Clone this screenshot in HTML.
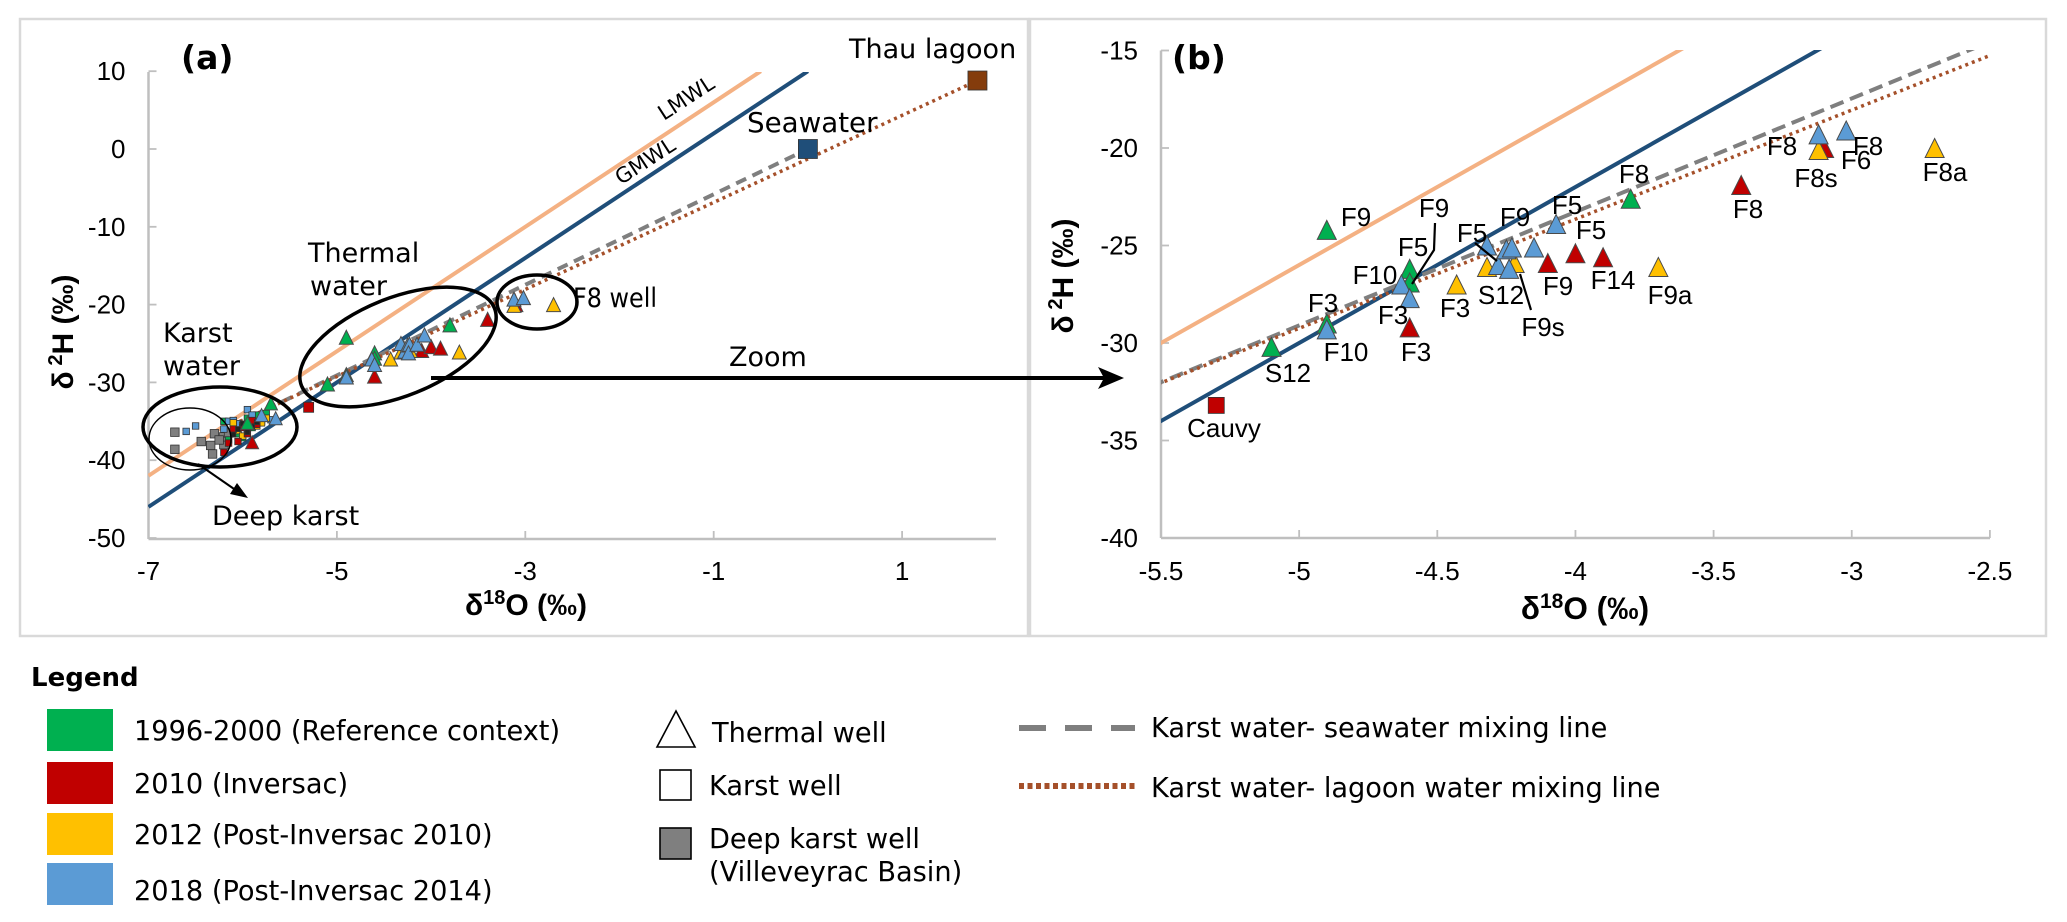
<!DOCTYPE html>
<html lang="en">
<head>
<meta charset="utf-8">
<title>Isotope chart</title>
<style>
html,body{margin:0;padding:0;background:#fff;width:2067px;height:922px;overflow:hidden}
svg{display:block}
text{fill:#000}
.dj{font-family:"DejaVu Sans",sans-serif;font-size:27px}
.lb{font-family:"Liberation Sans",sans-serif;font-size:26px}
.tick{font-family:"Liberation Sans",sans-serif;font-size:26px}
.ttl{font-family:"Liberation Sans",sans-serif;font-size:30px;font-weight:bold}
.lg{font-family:"DejaVu Sans",sans-serif;font-size:27.2px}
</style>
</head>
<body>
<svg id="root" width="2067" height="922" viewBox="0 0 2067 922" xmlns="http://www.w3.org/2000/svg">
  <defs>
    <clipPath id="clip-a"><rect x="148" y="72" width="848" height="467"/></clipPath>
    <clipPath id="clip-b"><rect x="1161" y="50" width="829" height="488"/></clipPath>
  </defs>
  <rect x="20" y="19" width="1008" height="617" fill="none" stroke="#d9d9d9" stroke-width="2.5"/>
  <rect x="1030" y="19" width="1016" height="617" fill="none" stroke="#d9d9d9" stroke-width="2.5"/>
  <g id="panel-a"></g>
  <g id="panel-b"></g>

  <text class="dj" x="181" y="69" style="font-size:33px;font-weight:bold">(a)</text>
  <text class="dj" x="1172" y="69" style="font-size:33px;font-weight:bold">(b)</text>

  <text class="ttl" x="526" y="615" text-anchor="middle">δ<tspan font-size="20" dy="-11">18</tspan><tspan dy="11">O (‰)</tspan></text>
  <text class="ttl" x="1585" y="619" text-anchor="middle" style="font-size:31.5px">δ<tspan font-size="21" dy="-11">18</tspan><tspan dy="11">O (‰)</tspan></text>
  <text class="ttl" transform="translate(73 332) rotate(-90)" text-anchor="middle">δ<tspan font-size="20" dy="-11"> 2</tspan><tspan dy="11">H (‰)</tspan></text>
  <text class="ttl" transform="translate(1073 276) rotate(-90)" text-anchor="middle">δ<tspan font-size="20" dy="-11"> 2</tspan><tspan dy="11">H (‰)</tspan></text>

  <!-- Panel (a) annotations -->
  <g fill="none" stroke="#000">
    <ellipse cx="220" cy="427" rx="77" ry="40" stroke-width="3.5"/>
    <ellipse cx="190" cy="439" rx="41" ry="31" stroke-width="1.5"/>
    <ellipse cx="398" cy="347" rx="104" ry="49" transform="rotate(-22 398 347)" stroke-width="3.5"/>
    <ellipse cx="537" cy="302" rx="40" ry="27" stroke-width="3.5"/>
    <line x1="198" y1="464" x2="237" y2="491" stroke-width="2"/>
    <path d="M248 498L230 494L237 483Z" fill="#000" stroke="none"/>
    <line x1="431" y1="378" x2="1105" y2="378" stroke-width="4"/>
    <path d="M1124 378L1098 367L1104 378L1098 389Z" fill="#000" stroke="none"/>
  </g>
  <text class="dj" x="163" y="342">Karst</text>
  <text class="dj" x="163" y="375">water</text>
  <text class="dj" x="308" y="262">Thermal</text>
  <text class="dj" x="310" y="295">water</text>
  <text class="dj" x="212" y="525">Deep karst</text>
  <text class="dj" x="573" y="307" textLength="84" lengthAdjust="spacingAndGlyphs">F8 well</text>
  <text class="dj" x="729" y="366">Zoom</text>
  <text class="dj" x="747" y="132" style="font-size:27.7px">Seawater</text>
  <text class="dj" x="849" y="58">Thau lagoon</text>
  <text class="dj" style="font-size:21px" transform="translate(690 104) rotate(-33)" text-anchor="middle">LMWL</text>
  <text class="dj" style="font-size:21px" transform="translate(649 167) rotate(-33)" text-anchor="middle">GMWL</text>

  <!-- Panel (b) point labels -->
  <g text-anchor="middle" class="lb">
    <text class="lb" x="1356" y="226">F9</text>
    <text class="lb" x="1434" y="217">F9</text>
    <text class="lb" x="1413" y="256">F5</text>
    <text class="lb" x="1472" y="242">F5</text>
    <text class="lb" x="1515" y="226">F9</text>
    <text class="lb" x="1567" y="214">F5</text>
    <text class="lb" x="1591" y="239">F5</text>
    <text class="lb" x="1634" y="183">F8</text>
    <text class="lb" x="1748" y="218">F8</text>
    <text class="lb" x="1782" y="155">F8</text>
    <text class="lb" x="1868" y="155">F8</text>
    <text class="lb" x="1856" y="169">F6</text>
    <text class="lb" x="1816" y="187">F8s</text>
    <text class="lb" x="1945" y="181">F8a</text>
    <text class="lb" x="1558" y="295">F9</text>
    <text class="lb" x="1613" y="289">F14</text>
    <text class="lb" x="1670" y="304">F9a</text>
    <text class="lb" x="1543" y="336">F9s</text>
    <text class="lb" x="1501" y="304">S12</text>
    <text class="lb" x="1455" y="317">F3</text>
    <text class="lb" x="1416" y="361">F3</text>
    <text class="lb" x="1393" y="324">F3</text>
    <text class="lb" x="1375" y="284">F10</text>
    <text class="lb" x="1323" y="312">F3</text>
    <text class="lb" x="1346" y="361">F10</text>
    <text class="lb" x="1288" y="382">S12</text>
    <text class="lb" x="1224" y="437">Cauvy</text>
  </g>
  <g fill="none" stroke="#000" stroke-width="2.2">
    <path d="M1435 223L1434 250L1412 284"/>
    <path d="M1475 243L1497 261"/>
    <path d="M1531 310L1520 274"/>
  </g>

  <!-- Legend -->
  <g>
    <text class="dj" x="31" y="686" style="font-weight:bold;font-size:26px">Legend</text>
    <rect x="47" y="709" width="66" height="42" fill="#00B050"/>
    <rect x="47" y="762" width="66" height="42" fill="#C00000"/>
    <rect x="47" y="813" width="66" height="42" fill="#FFC000"/>
    <rect x="47" y="863" width="66" height="42" fill="#5B9BD5"/>
    <text class="lg" x="134" y="740">1996-2000 (Reference context)</text>
    <text class="lg" x="134" y="793">2010 (Inversac)</text>
    <text class="lg" x="134" y="844">2012 (Post-Inversac 2010)</text>
    <text class="lg" x="134" y="900">2018 (Post-Inversac 2014)</text>
    <path d="M676 711L695 747L657 747Z" fill="#fff" stroke="#000" stroke-width="1.6"/>
    <rect x="660" y="770" width="31" height="30" fill="#fff" stroke="#000" stroke-width="1.6"/>
    <rect x="660" y="828" width="31" height="31" fill="#7f7f7f" stroke="#000" stroke-width="1.6"/>
    <text class="lg" x="712" y="742">Thermal well</text>
    <text class="lg" x="709" y="795">Karst well</text>
    <text class="lg" x="709" y="848">Deep karst well</text>
    <text class="lg" x="709" y="881">(Villeveyrac Basin)</text>
    <line x1="1019" y1="728" x2="1135" y2="728" stroke="#7f7f7f" stroke-width="6" stroke-dasharray="27 19"/>
    <line x1="1019" y1="786" x2="1135" y2="786" stroke="#A5502A" stroke-width="6" stroke-dasharray="5 3.5"/>
    <text class="lg" x="1151" y="737">Karst water- seawater mixing line</text>
    <text class="lg" x="1151" y="797">Karst water- lagoon water mixing line</text>
  </g>
</svg>

<script>
// Axis tick labels
const aXTicks = [-7, -5, -3, -1, 1];
const aYTicks = [10, 0, -10, -20, -30, -40, -50];
const bXTicks = [-5.5, -5, -4.5, -4, -3.5, -3, -2.5];
const bYTicks = [-15, -20, -25, -30, -35, -40];

// Reference and mixing lines (δ18O, δ2H)
const lmwlX = [-7, -0.5];
const lmwlY = [-42, 10];
const gmwlX = [-7, 0];
const gmwlY = [-46, 10];
const seaMixX = [-6.1, 0];
const seaMixY = [-35.5, 0];
const lagoonMixX = [-6.1, 1.8];
const lagoonMixY = [-35.4, 8.8];

// Thermal wells, by campaign
const thermalGreenX = [-4.9, -4.6, -4.6, -5.1, -3.8, -4.9];
const thermalGreenY = [-24.2, -26.2, -26.9, -30.2, -22.6, -29.0];
const thermalRedX = [-4.6, -4.1, -4.0, -3.9, -3.4, -3.1];
const thermalRedY = [-29.2, -25.9, -25.4, -25.6, -21.9, -20.0];
const thermalYellowX = [-4.43, -4.32, -4.22, -3.7, -3.12, -2.7];
const thermalYellowY = [-27.0, -26.1, -25.9, -26.1, -20.1, -20.0];
const thermalBlueX = [-4.9, -4.63, -4.6, -4.32, -4.28, -4.25, -4.23, -4.24, -4.15, -4.07, -3.12, -3.02];
const thermalBlueY = [-29.3, -27.0, -27.7, -25.0, -26.0, -25.2, -25.1, -26.2, -25.1, -23.9, -19.3, -19.1];

// Extra thermal wells in the karst cluster (panel a only)
const clusterTriGreenX = [-5.7, -5.95];
const clusterTriGreenY = [-32.7, -35.2];
const clusterTriRedX = [-5.9];
const clusterTriRedY = [-37.7];
const clusterTriBlueX = [-5.65, -5.8];
const clusterTriBlueY = [-34.6, -34.2];

// Karst wells, by campaign
const karstGreenX = [-6.2, -6.1, -6.05, -5.95, -5.9, -5.85, -6.15, -6.0, -5.8, -5.75];
const karstGreenY = [-35.0, -35.6, -36.6, -34.6, -35.8, -34.2, -37.4, -37.1, -35.0, -34.0];
const karstRedX = [-6.2, -6.1, -6.0, -5.95, -6.15, -5.85, -6.05, -5.9];
const karstRedY = [-39.0, -36.0, -35.8, -36.6, -37.8, -35.4, -37.6, -34.9];
const karstYellowX = [-6.1, -6.0, -5.95, -5.9, -5.85, -5.8, -6.05, -5.75, -6.0];
const karstYellowY = [-35.2, -35.5, -35.9, -35.0, -35.6, -35.2, -36.2, -34.6, -36.9];
const karstBlueX = [-6.6, -6.5, -5.95, -6.15, -6.05, -5.9, -5.85, -5.8, -5.7, -6.2, -6.1, -5.95];
const karstBlueY = [-36.3, -35.6, -33.5, -35.0, -35.3, -34.2, -35.0, -34.6, -34.8, -36.0, -34.9, -35.8];
const karstBlackX = [-6.05, -6.0, -5.95, -5.9, -6.1, -5.85];
const karstBlackY = [-36.0, -35.3, -36.4, -35.7, -36.7, -35.1];

// Cauvy karst spring
const cauvyX = [-5.3];
const cauvyY = [-33.2];

// Deep karst wells
const deepKarstX = [-6.72, -6.72, -6.44, -6.34, -6.3, -6.32, -6.2, -6.2, -6.15, -6.25];
const deepKarstY = [-36.4, -38.6, -37.6, -38.1, -36.6, -39.2, -38.0, -37.0, -36.5, -37.4];

// End members
const seawaterX = [0];
const seawaterY = [0];
const thauX = [1.8];
const thauY = [8.8];

const NS = 'http://www.w3.org/2000/svg';
const colGreen = '#00B050', colRed = '#C00000', colYellow = '#FFC000', colBlue = '#5B9BD5';

const axA = {
  x: v => 148.5 + (v + 7) * 94.2,
  y: v => 149 - v * 7.78,
  left: 148.5, right: 996, top: 72, bottom: 539
};
const axB = {
  x: v => 1161 + (v + 5.5) * 276.3,
  y: v => 148 - (v + 20) * 19.5,
  left: 1161, right: 1990, top: 50.5, bottom: 538
};

function node(parent, tag, attrs) {
  const el = document.createElementNS(NS, tag);
  for (const k in attrs) el.setAttribute(k, attrs[k]);
  parent.appendChild(el);
  return el;
}

function drawAxes(g, ax, xTicks, yTicks, prefix) {
  const xLine = node(g, 'line', {x1: ax.left, y1: ax.bottom, x2: ax.right, y2: ax.bottom, stroke: '#bfbfbf', 'stroke-width': 2.5});
  
  
  const yLine = node(g, 'line', {x1: ax.left, y1: ax.top, x2: ax.left, y2: ax.bottom, stroke: '#bfbfbf', 'stroke-width': 2.5});
  
  
  xTicks.forEach(t => {
    const px = ax.x(t);
    const tk = node(g, 'line', {x1: px, y1: ax.bottom, x2: px, y2: ax.bottom - 8, stroke: '#bfbfbf', 'stroke-width': 1.8});
    
    
    const lb = node(g, 'text', {x: px, y: 580, 'text-anchor': 'middle', class: 'tick'});
    
    
    lb.textContent = String(t);
  });
  yTicks.forEach(t => {
    const py = ax.y(t);
    const tk = node(g, 'line', {x1: ax.left, y1: py, x2: ax.left + 8, y2: py, stroke: '#bfbfbf', 'stroke-width': 1.8});
    
    
    const lb = node(g, 'text', {x: ax.left - 23, y: py + 9, 'text-anchor': 'end', class: 'tick'});
    
    
    lb.textContent = String(t);
  });
}

function drawLine(g, ax, xs, ys, stroke, width, dash, name) {
  const ln = node(g, 'line', {x1: ax.x(xs[0]), y1: ax.y(ys[0]), x2: ax.x(xs[1]), y2: ax.y(ys[1]), stroke: stroke, 'stroke-width': width});
  if (dash) ln.setAttribute('stroke-dasharray', dash);
  
  
}

function drawTriangles(g, ax, xs, ys, fill, size, name) {
  xs.forEach((v, i) => {
    const px = ax.x(v), py = ax.y(ys[i]), h = size / 2;
    const tri = node(g, 'path', {
      d: 'M' + px + ' ' + (py - h) + 'L' + (px + h) + ' ' + (py + h) + 'L' + (px - h) + ' ' + (py + h) + 'Z',
      fill: fill, stroke: '#4a4a4a', 'stroke-width': 1
    });
    
    
  });
}

function drawSquares(g, ax, xs, ys, fill, size, name) {
  xs.forEach((v, i) => {
    const sq = node(g, 'rect', {
      x: ax.x(v) - size / 2, y: ax.y(ys[i]) - size / 2, width: size, height: size,
      fill: fill, stroke: '#333', 'stroke-width': 0.8
    });
    
    
  });
}

function drawRefLines(g, ax, clipId, prefix, seaDash) {
  const c = node(g, 'g', {'clip-path': 'url(#' + clipId + ')'});
  
  
  drawLine(c, ax, lmwlX, lmwlY, '#F4B183', 4, null, prefix + '-lmwl-line');
  drawLine(c, ax, gmwlX, gmwlY, '#1F4E79', 4, null, prefix + '-gmwl-line');
  drawLine(c, ax, seaMixX, seaMixY, '#7f7f7f', 4, seaDash, prefix + '-seawater-mixing-line');
  drawLine(c, ax, lagoonMixX, lagoonMixY, '#A5502A', 3.5, '3 4', prefix + '-lagoon-mixing-line');
}

function drawThermal(g, ax, size, prefix) {
  drawTriangles(g, ax, thermalGreenX, thermalGreenY, colGreen, size, prefix + '-thermal-1996-2000');
  drawTriangles(g, ax, thermalRedX, thermalRedY, colRed, size, prefix + '-thermal-2010');
  drawTriangles(g, ax, thermalYellowX, thermalYellowY, colYellow, size, prefix + '-thermal-2012');
  drawTriangles(g, ax, thermalBlueX, thermalBlueY, colBlue, size, prefix + '-thermal-2018');
}

const gA = document.getElementById('panel-a');
const gB = document.getElementById('panel-b');

drawAxes(gA, axA, aXTicks, aYTicks, 'panel-a');
drawRefLines(gA, axA, 'clip-a', 'panel-a', '11 7');
drawSquares(gA, axA, deepKarstX, deepKarstY, '#7f7f7f', 8.5, 'deep-karst-well');
drawSquares(gA, axA, karstGreenX, karstGreenY, colGreen, 6.5, 'karst-well-1996-2000');
drawSquares(gA, axA, karstBlueX, karstBlueY, colBlue, 6.5, 'karst-well-2018');
drawSquares(gA, axA, karstYellowX, karstYellowY, colYellow, 6.5, 'karst-well-2012');
drawSquares(gA, axA, karstRedX, karstRedY, colRed, 6.5, 'karst-well-2010');
drawSquares(gA, axA, karstBlackX, karstBlackY, '#222', 5, 'karst-well-overlap');
drawSquares(gA, axA, cauvyX, cauvyY, colRed, 10, 'panel-a-cauvy-point');
drawTriangles(gA, axA, clusterTriGreenX, clusterTriGreenY, colGreen, 13, 'cluster-thermal-1996-2000');
drawTriangles(gA, axA, clusterTriRedX, clusterTriRedY, colRed, 13, 'cluster-thermal-2010');
drawTriangles(gA, axA, clusterTriBlueX, clusterTriBlueY, colBlue, 13, 'cluster-thermal-2018');
drawThermal(gA, axA, 14, 'panel-a');
drawSquares(gA, axA, seawaterX, seawaterY, '#1F4E79', 19, 'seawater-point');
drawSquares(gA, axA, thauX, thauY, '#843C0C', 19, 'thau-lagoon-point');

drawAxes(gB, axB, bXTicks, bYTicks, 'panel-b');
drawRefLines(gB, axB, 'clip-b', 'panel-b', '14 7');
drawSquares(gB, axB, cauvyX, cauvyY, colRed, 16, 'panel-b-cauvy-point');
drawThermal(gB, axB, 19, 'panel-b');
</script>
</body>
</html>
